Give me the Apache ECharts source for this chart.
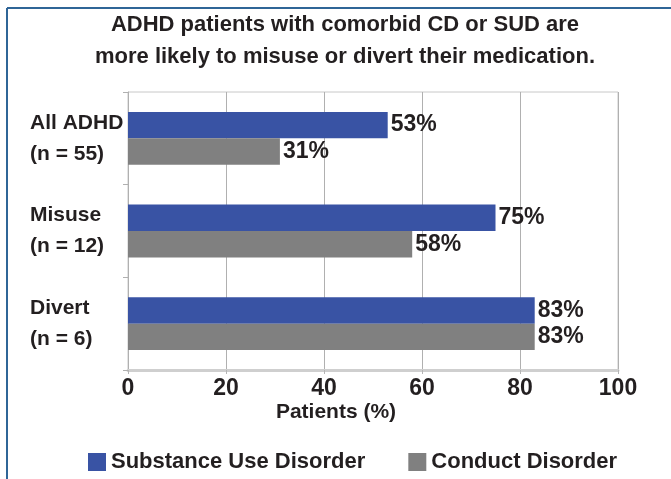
<!DOCTYPE html>
<html>
<head>
<meta charset="utf-8">
<script src="https://cdn.jsdelivr.net/npm/echarts@6/dist/echarts.min.js"></script>
<style>
  html, body { margin: 0; padding: 0; background: #fff; }
  #chart { width: 671px; height: 479px; }
</style>
</head>
<body>
<div id="chart"></div>
<script>
// Groups shown on the category axis (two-line labels)
const groups = ['All ADHD', 'Misuse', 'Divert'];
const groupSizes = ['(n = 55)', '(n = 12)', '(n = 6)'];

// Share of patients (%) with each comorbidity
const sudValues = [53, 75, 83];
const cdValues = [31, 58, 83];

const seriesNames = ['Substance Use Disorder', 'Conduct Disorder'];
const xTicks = [0, 20, 40, 60, 80, 100];

const FONT = '"Liberation Sans", Arial, sans-serif';
const INK = '#231f20';

const chart = echarts.init(document.getElementById('chart'));

const barLabel = {
  show: true,
  position: 'right',
  distance: 3,
  formatter: p => p.value + '%',
  fontFamily: FONT,
  fontWeight: 'bold',
  fontSize: 23,
  color: INK
};

chart.setOption({
  animation: false,
  backgroundColor: '#fff',
  title: [
    {
      text: 'ADHD patients with comorbid CD or SUD are\nmore likely to misuse or divert their medication.',
      left: 340,
      top: 4,
      textAlign: 'center',
      textStyle: { fontFamily: FONT, fontWeight: 'bold', fontSize: 22, lineHeight: 32, color: INK }
    },
    {
      text: 'Patients (%)',
      left: 331,
      top: 397,
      textAlign: 'center',
      textStyle: { fontFamily: FONT, fontWeight: 'bold', fontSize: 21, color: INK }
    }
  ],
  legend: {
    data: seriesNames,
    left: 83,
    top: 446,
    itemWidth: 18,
    itemHeight: 18,
    itemGap: 43,
    icon: 'rect',
    textStyle: { fontFamily: FONT, fontWeight: 'bold', fontSize: 22, color: INK }
  },
  grid: {
    left: 128, right: 53, top: 92, bottom: 109,
    show: true, borderColor: '#c8c8c8', borderWidth: 1
  },
  xAxis: {
    type: 'value',
    min: 0, max: 100, interval: 20,
    axisLine: { show: true, lineStyle: { color: '#cfcfcf', width: 3 } },
    axisTick: { show: true, length: 4, lineStyle: { color: '#b5b5b5' } },
    splitLine: { show: true, lineStyle: { color: '#b0b0b0', width: 1 } },
    axisLabel: {
      margin: 7,
      formatter: v => (xTicks.indexOf(v) >= 0 ? String(v) : ''),
      fontFamily: FONT, fontWeight: 'bold', fontSize: 23, color: INK
    }
  },
  yAxis: {
    type: 'category',
    inverse: true,
    data: groups.map((g, i) => g + '\n' + groupSizes[i]),
    axisLine: { show: true, lineStyle: { color: '#b0b0b0' } },
    axisTick: { show: true, length: 5, lineStyle: { color: '#b0b0b0' } },
    axisLabel: {
      align: 'left',
      margin: 98,
      lineHeight: 31,
      fontFamily: FONT, fontWeight: 'bold', fontSize: 21, color: INK
    }
  },
  series: [
    {
      name: seriesNames[0],
      type: 'bar',
      data: sudValues,
      barGap: '0%',
      barCategoryGap: '43%',
      itemStyle: { color: '#3953a4' },
      label: barLabel
    },
    {
      name: seriesNames[1],
      type: 'bar',
      data: cdValues,
      itemStyle: { color: '#808080' },
      label: barLabel
    }
  ],
  graphic: [
    { type: 'line', shape: { x1: 7, y1: 8, x2: 671, y2: 8 }, style: { stroke: '#2f6597', lineWidth: 2 } },
    { type: 'line', shape: { x1: 7, y1: 8, x2: 7, y2: 479 }, style: { stroke: '#2f6597', lineWidth: 2 } }
  ]
});
</script>
</body>
</html>
